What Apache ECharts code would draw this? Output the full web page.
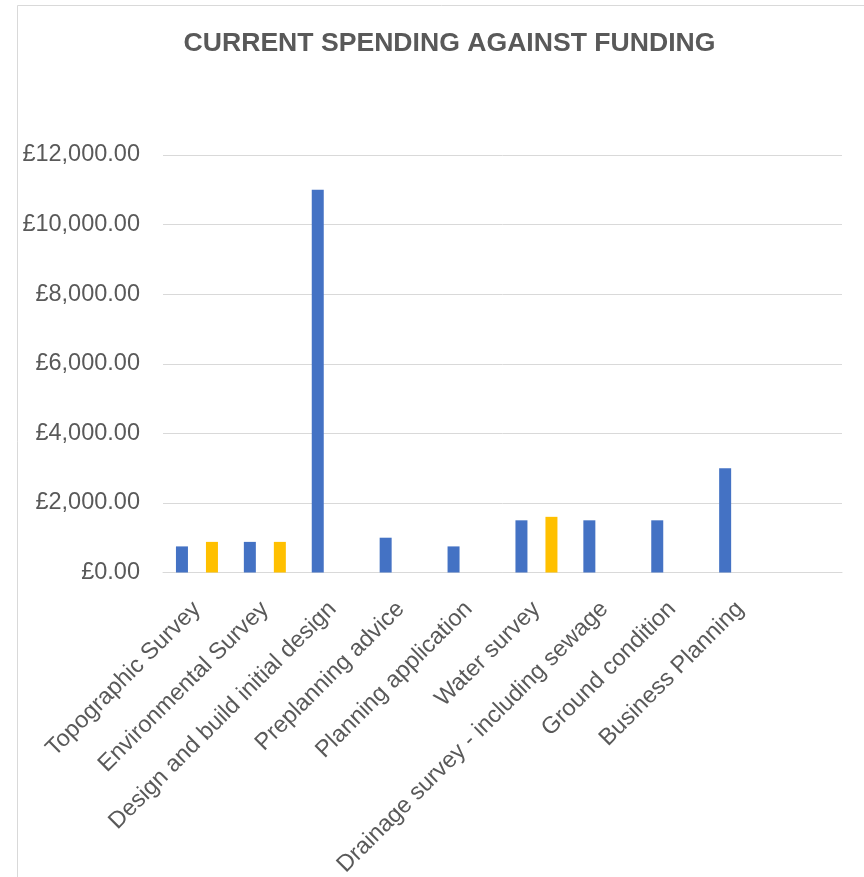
<!DOCTYPE html>
<html>
<head>
<meta charset="utf-8">
<script src="https://cdn.jsdelivr.net/npm/echarts@6/dist/echarts.min.js"></script>
<style>
  html, body { margin: 0; padding: 0; background: #ffffff; }
  #chart { width: 864px; height: 877px; }
</style>
</head>
<body>
<div id="chart"></div>
<script>
const categories = [
  'Topographic Survey',
  'Environmental Survey',
  'Design and build initial design',
  'Preplanning advice',
  'Planning application',
  'Water survey',
  'Drainage survey - including sewage',
  'Ground condition',
  'Business Planning',
  ''
];
const spendingValues = [750, 880, 11000, 1000, 750, 1500, 1500, 1500, 3000, null];
const fundingValues  = [880, 880, null, null, null, 1600, null, null, null, null];
const yTicks = [0, 2000, 4000, 6000, 8000, 10000, 12000];

const FONT = "'Liberation Sans', Arial, sans-serif";
const chart = echarts.init(document.getElementById('chart'), null, { renderer: 'canvas' });

function fmt(v) {
  return '£' + Number(v).toLocaleString('en-GB', { minimumFractionDigits: 2, maximumFractionDigits: 2 });
}

chart.setOption({
  animation: false,
  backgroundColor: '#ffffff',
  graphic: [{
    type: 'rect',
    shape: { x: 17.5, y: 5.5, width: 1000, height: 1000 },
    style: { fill: 'none', stroke: '#d9d9d9', lineWidth: 1 },
    silent: true
  }],
  title: {
    text: 'CURRENT SPENDING AGAINST FUNDING',
    left: 444.5,
    top: 25,
    textAlign: 'center',
    textStyle: { fontFamily: FONT, fontSize: 26.6, fontWeight: 'bold', color: '#595959' }
  },
  grid: { left: 163, right: 22, top: 155, bottom: 304.5, containLabel: false, outerBoundsMode: 'none' },
  xAxis: {
    type: 'category',
    data: categories,
    axisTick: { show: false },
    axisLine: { show: true, lineStyle: { color: '#d9d9d9', width: 1 } },
    axisLabel: {
      interval: 0,
      rotate: 45,
      margin: 33,
      padding: [0, 0, 34, 0],
      fontFamily: FONT,
      fontSize: 23.5,
      color: '#595959'
    }
  },
  yAxis: {
    type: 'value',
    min: yTicks[0],
    max: yTicks[yTicks.length - 1],
    interval: 2000,
    axisLine: { show: false },
    axisTick: { show: false },
    splitLine: { lineStyle: { color: '#d9d9d9', width: 1 } },
    axisLabel: {
      margin: 23,
      fontFamily: FONT,
      fontSize: 23.5,
      color: '#595959',
      formatter: fmt
    }
  },
  series: [
    {
      name: 'Spending',
      type: 'bar',
      data: spendingValues,
      barWidth: 12,
      barGap: '150%',
      itemStyle: { color: '#4472C4' }
    },
    {
      name: 'Funding',
      type: 'bar',
      data: fundingValues,
      barWidth: 12,
      barGap: '150%',
      itemStyle: { color: '#FFC000' }
    }
  ]
});
</script>
</body>
</html>
